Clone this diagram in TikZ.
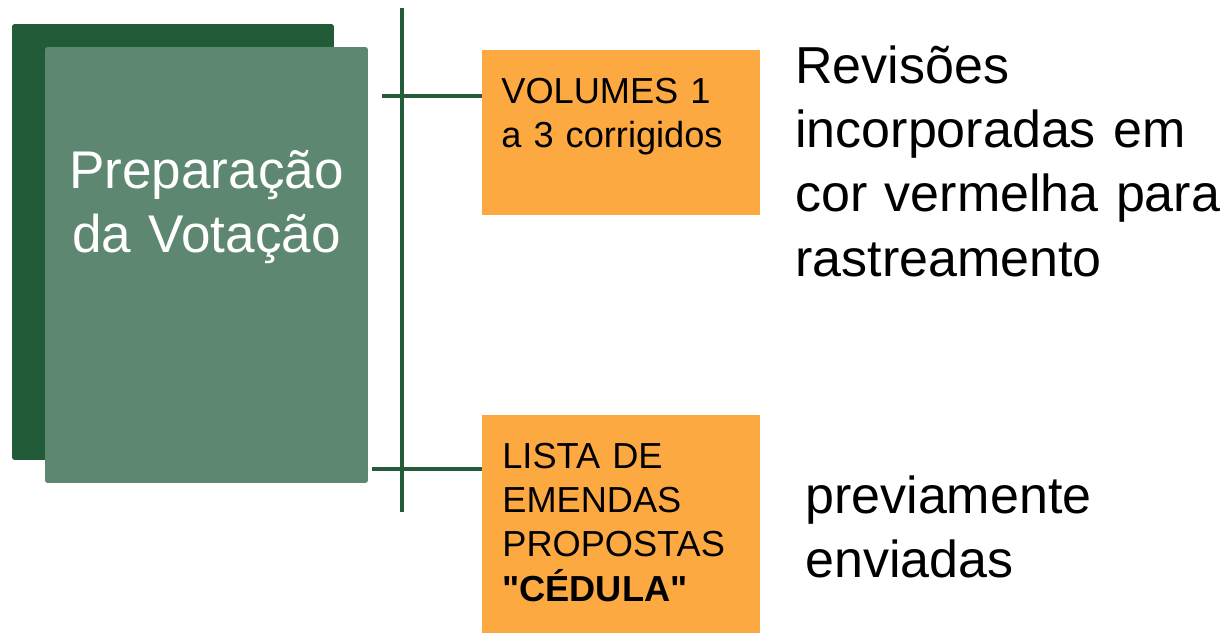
\documentclass[tikz,border=0pt]{standalone}
\usepackage{fontspec}
\setmainfont{Liberation Sans}
\usepackage{xcolor}
\definecolor{pinegreen}{HTML}{215B37}
\definecolor{sagegreen}{HTML}{5D8770}
\definecolor{amber}{HTML}{FCA941}
\definecolor{stemgreen}{HTML}{245C39}
\usepackage{tikz}
\usetikzlibrary{positioning}

\begin{document}
\begin{tikzpicture}[
  x=0.02cm, y=-0.02cm,
  cover/.style={
    rectangle, rounded corners=1.5pt, inner sep=0pt,
    minimum width=6.46cm, minimum height=8.72cm
  },
  tab/.style={
    rectangle, fill=amber, inner sep=0pt, minimum width=5.56cm
  },
  tabtext/.style={
    anchor=base west, inner sep=0pt, align=left, text width=5cm,
    font=\fontsize{20.6}{25.3}\selectfont
  },
  note/.style={
    anchor=base west, inner sep=0pt, align=left, text width=8.5cm,
    font=\fontsize{29.6}{36.7}\selectfont
  },
  stem/.style={stemgreen, line width=1.9pt}
]
\useasboundingbox (0,0) rectangle (1223,633);

% stacked covers
\node[cover, fill=pinegreen, minimum width=6.44cm] (back) at (173,242) {};
\node[cover, fill=sagegreen] (front) at (206.5,265) {};
\node[anchor=base, inner sep=0pt, align=center, text width=6.46cm, text=white,
      font=\fontsize{30.2}{36.7}\selectfont] (title) at (206.5,188)
      {Preparação\\da Votação};

% orange tabs
\node[tab, minimum height=3.3cm] (vol) at (621,132.5) {};
\node[tab, minimum height=4.36cm] (ballot) at (621,524) {};
\node[tabtext] (voltxt) at (501,103) {VOLUMES 1\\a 3 corrigidos};
\node[tabtext] (ballottxt) at (502,468)
  {LISTA DE\\EMENDAS\\PROPOSTAS\\\textbf{\textquotedbl CÉDULA\textquotedbl}};

% notes
\node[note] (revnote) at (795,83)
  {Revisões\\incorporadas em\\cor vermelha para\\rastreamento};
\node[note] (sentnote) at (805,513) {previamente\\enviadas};

% spine and ticks
\coordinate (spinetop) at (402,8);
\coordinate (spinebot) at (402,512);
\coordinate (tickvol) at (382,96);
\coordinate (tickballot) at (372,469);
\draw[stem] (spinetop) -- (spinebot);
\foreach \t/\b in {tickvol/vol, tickballot/ballot}
  \draw[stem] (\t) -- (\t -| \b.west);

\end{tikzpicture}
\end{document}
